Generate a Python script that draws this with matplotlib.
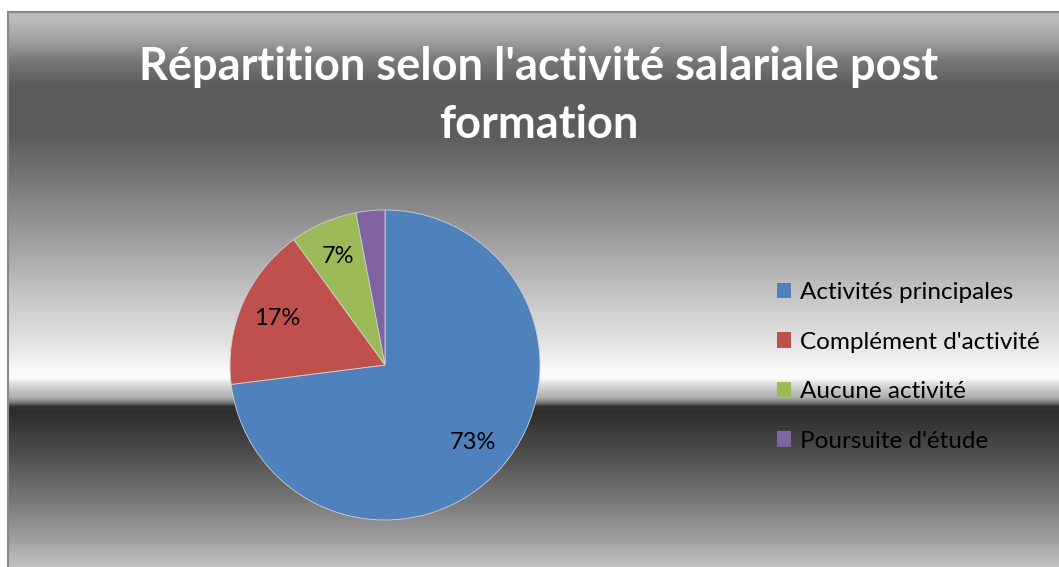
import matplotlib.pyplot as plt
import matplotlib.patches as mpatches
import numpy as np

# data
categories = ["Activités principales", "Complément d'activité", "Aucune activité", "Poursuite d'étude"]
values = [73, 17, 7, 3]
colors = ["#4F81BD", "#C0504D", "#9BBB59", "#8064A2"]
title = "Répartition selon l'activité salariale post\nformation"

W, H = 1059, 567
fig = plt.figure(figsize=(W / 100, H / 100), dpi=100)
fig.patch.set_facecolor("white")

# chrome-like background of the chart area (gray levels by pixel row from the top)
bg_y = [12, 20, 40, 60, 85, 135, 165, 200, 250, 300, 340, 360, 370, 378, 383, 392, 397, 402, 406, 412, 450, 500, 540, 567]
bg_g = [188, 186, 160, 120, 92, 92, 110, 132, 165, 200, 225, 240, 250, 250, 222, 190, 175, 120, 50, 45, 75, 120, 160, 195]
rows = np.arange(12, H)
gray = np.interp(rows, bg_y, bg_g) / 255.0
img = np.repeat(gray[:, None], 2, axis=1)

bg = fig.add_axes([8 / W, 0, 1 - 8 / W, (H - 12) / H])
bg.imshow(img, cmap="gray", vmin=0, vmax=1, aspect="auto", interpolation="nearest")
bg.set_xticks([])
bg.set_yticks([])
for side in ["right", "bottom"]:
    bg.spines[side].set_visible(False)
for side in ["left", "top"]:
    bg.spines[side].set_color("#888888")
    bg.spines[side].set_linewidth(1.5)

# pie
cx, cy, r = 385, 365, 155
ax = fig.add_axes([(cx - r) / W, (H - cy - r) / H, 2 * r / W, 2 * r / H])
wedges, texts, autotexts = ax.pie(
    values, colors=colors, startangle=90, counterclock=False,
    autopct=lambda p: f"{p:.0f}%" if p > 5 else "", pctdistance=0.76,
    wedgeprops=dict(edgecolor="#d0d0d0", linewidth=0.6),
    textprops=dict(fontfamily="Lato", fontsize=17, color="black"))
ax.set_xlim(-1, 1)
ax.set_ylim(-1, 1)
ax.set_aspect("equal")
ax.patch.set_alpha(0)

# title
fig.text(539 / W, 1 - 96 / H, title, ha="center", va="center", fontfamily="Lato",
         fontweight="bold", fontsize=32.5, color="white", linespacing=1.45)

# legend
handles = [mpatches.Patch(facecolor=c, edgecolor="none") for c in colors]
fig.legend(handles, categories, loc="center left", bbox_to_anchor=(755 / W, 1 - 367 / H),
           frameon=False, prop=dict(family="Lato", size=17.5), handlelength=0.6,
           handleheight=0.6, handletextpad=0.35, labelspacing=1.17, labelcolor="black")

fig.savefig("out.png", dpi=100)
